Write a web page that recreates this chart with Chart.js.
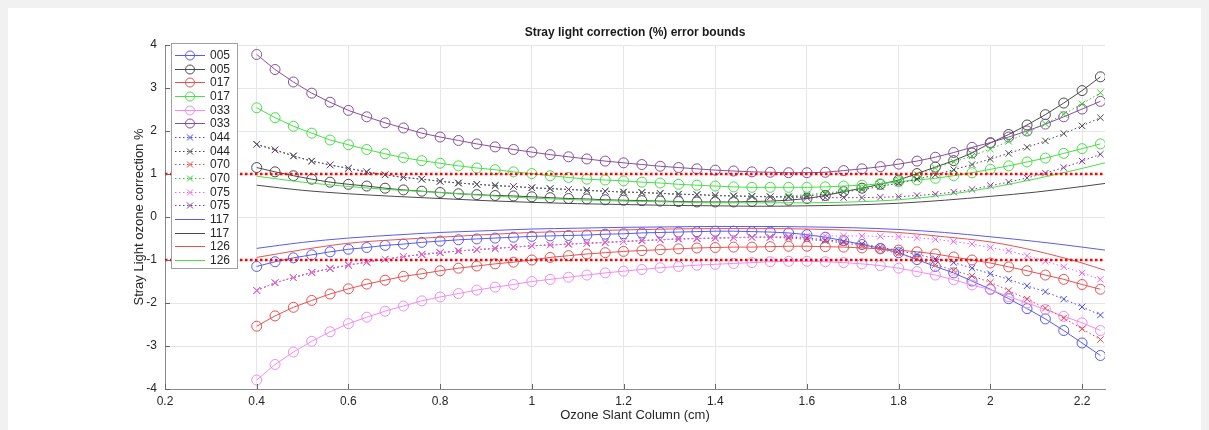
<!DOCTYPE html>
<html>
<head>
<meta charset="utf-8">
<script src="https://cdn.jsdelivr.net/npm/chart.js@4.4.1/dist/chart.umd.min.js"></script>
<style>
  html, body { margin: 0; padding: 0; background: #fff; }
  #wrap { width: 1209px; height: 430px; }
</style>
</head>
<body>
<div id="wrap"><canvas id="strayLight" width="1209" height="430"></canvas></div>
<script>
// slant column samples (cm) for the marked series
const slantCols = [0.40, 0.44, 0.48, 0.52, 0.56, 0.60, 0.64, 0.68, 0.72, 0.76, 0.80, 0.84, 0.88, 0.92, 0.96, 1.00,
  1.04, 1.08, 1.12, 1.16, 1.20, 1.24, 1.28, 1.32, 1.36, 1.40, 1.44, 1.48, 1.52, 1.56, 1.60, 1.64,
  1.68, 1.72, 1.76, 1.80, 1.84, 1.88, 1.92, 1.96, 2.00, 2.04, 2.08, 2.12, 2.16, 2.20, 2.24];
// samples for the plain lines (117, 126)
const lineCols = [0.4, 0.5, 0.6, 0.7, 0.8, 0.9, 1.0, 1.1, 1.2, 1.3, 1.4, 1.5, 1.6, 1.7, 1.8, 1.9, 2.0, 2.1, 2.2, 2.25];

const xTickVals = [0.2, 0.4, 0.6, 0.8, 1, 1.2, 1.4, 1.6, 1.8, 2, 2.2];
const yTickVals = [-4, -3, -2, -1, 0, 1, 2, 3, 4];

const boundCols = [0.2, 2.25];
const upperBound = [1, 1];
const lowerBound = [-1, -1];

// circles
const c005Neg = [-1.15, -1.04, -0.95, -0.88, -0.81, -0.75, -0.71, -0.66, -0.63, -0.59, -0.56, -0.53, -0.51, -0.49, -0.47, -0.45,
  -0.44, -0.43, -0.42, -0.40, -0.39, -0.37, -0.36, -0.35, -0.34, -0.33, -0.33, -0.34, -0.35,
  -0.37, -0.41, -0.47, -0.55, -0.64, -0.73, -0.83, -0.99, -1.15, -1.30, -1.49,
  -1.68, -1.90, -2.13, -2.37, -2.64, -2.93, -3.22];
const c005Pos = [1.15, 1.05, 0.96, 0.88, 0.81, 0.76, 0.72, 0.67, 0.63, 0.60, 0.57, 0.54, 0.52, 0.50, 0.49, 0.47,
  0.45, 0.43, 0.42, 0.40, 0.39, 0.38, 0.37, 0.36, 0.35, 0.35, 0.35, 0.36, 0.37,
  0.39, 0.43, 0.50, 0.59, 0.67, 0.76, 0.86, 1.01, 1.16, 1.31, 1.49,
  1.72, 1.92, 2.14, 2.38, 2.65, 2.94, 3.26];
const c017Neg = [-2.54, -2.30, -2.10, -1.94, -1.79, -1.67, -1.56, -1.47, -1.38, -1.32, -1.25, -1.19, -1.14, -1.09, -1.05, -1.00,
  -0.94, -0.90, -0.86, -0.83, -0.80, -0.78, -0.76, -0.74, -0.72, -0.71, -0.70, -0.70, -0.69,
  -0.68, -0.68, -0.69, -0.70, -0.72, -0.74, -0.77, -0.81, -0.86, -0.93, -1.00,
  -1.07, -1.16, -1.25, -1.35, -1.45, -1.57, -1.68];
const c017Pos = [2.54, 2.31, 2.11, 1.95, 1.79, 1.68, 1.57, 1.47, 1.38, 1.31, 1.25, 1.19, 1.14, 1.10, 1.05, 1.01,
  0.96, 0.92, 0.88, 0.86, 0.84, 0.81, 0.79, 0.76, 0.74, 0.72, 0.70, 0.69, 0.69,
  0.69, 0.69, 0.70, 0.72, 0.74, 0.77, 0.82, 0.86, 0.90, 0.96, 1.03,
  1.11, 1.19, 1.28, 1.37, 1.48, 1.59, 1.70];
const c033Neg = [-3.79, -3.43, -3.14, -2.89, -2.67, -2.48, -2.33, -2.19, -2.07, -1.95, -1.86, -1.78, -1.70, -1.63, -1.57, -1.50,
  -1.45, -1.40, -1.35, -1.30, -1.26, -1.22, -1.18, -1.15, -1.12, -1.10, -1.08, -1.06, -1.04,
  -1.03, -1.03, -1.04, -1.06, -1.09, -1.13, -1.19, -1.27, -1.35, -1.46, -1.58,
  -1.69, -1.85, -2.00, -2.15, -2.31, -2.46, -2.64];
const c033Pos = [3.78, 3.43, 3.14, 2.88, 2.67, 2.48, 2.33, 2.19, 2.07, 1.95, 1.86, 1.78, 1.70, 1.63, 1.57, 1.51,
  1.45, 1.40, 1.35, 1.30, 1.26, 1.22, 1.18, 1.15, 1.12, 1.09, 1.07, 1.05, 1.04,
  1.03, 1.03, 1.04, 1.08, 1.12, 1.17, 1.23, 1.30, 1.39, 1.50, 1.62,
  1.73, 1.86, 2.00, 2.16, 2.33, 2.51, 2.69];

// crosses
const x044Neg = [-1.71, -1.53, -1.41, -1.29, -1.20, -1.12, -1.05, -0.98, -0.92, -0.87, -0.83, -0.79, -0.76, -0.73, -0.70, -0.67,
  -0.65, -0.63, -0.61, -0.59, -0.57, -0.55, -0.53, -0.51, -0.50, -0.49, -0.48, -0.47, -0.47,
  -0.47, -0.49, -0.53, -0.57, -0.63, -0.70, -0.78, -0.87, -0.97, -1.06, -1.19,
  -1.32, -1.45, -1.60, -1.74, -1.91, -2.09, -2.28];
const x044Pos = [1.69, 1.56, 1.42, 1.30, 1.21, 1.13, 1.05, 0.98, 0.92, 0.88, 0.83, 0.79, 0.76, 0.73, 0.71, 0.68,
  0.66, 0.64, 0.62, 0.60, 0.58, 0.57, 0.55, 0.53, 0.52, 0.50, 0.49, 0.48, 0.47,
  0.47, 0.49, 0.53, 0.58, 0.64, 0.71, 0.79, 0.88, 0.98, 1.10, 1.22,
  1.35, 1.48, 1.62, 1.77, 1.94, 2.12, 2.31];
const x070Neg = [-1.71, -1.53, -1.41, -1.29, -1.20, -1.12, -1.05, -0.98, -0.92, -0.87, -0.83, -0.79, -0.76, -0.73, -0.70, -0.67,
  -0.65, -0.63, -0.61, -0.59, -0.57, -0.55, -0.53, -0.51, -0.50, -0.49, -0.48, -0.47, -0.47,
  -0.49, -0.52, -0.56, -0.60, -0.67, -0.75, -0.85, -0.97, -1.11, -1.24, -1.37,
  -1.52, -1.71, -1.91, -2.12, -2.35, -2.60, -2.85];
const x070Pos = [1.69, 1.56, 1.42, 1.30, 1.21, 1.13, 1.05, 0.98, 0.92, 0.88, 0.83, 0.79, 0.76, 0.73, 0.71, 0.68,
  0.66, 0.64, 0.62, 0.60, 0.58, 0.57, 0.55, 0.53, 0.52, 0.50, 0.49, 0.48, 0.47,
  0.49, 0.52, 0.56, 0.60, 0.67, 0.76, 0.86, 0.99, 1.14, 1.28, 1.42,
  1.58, 1.76, 1.96, 2.17, 2.39, 2.63, 2.89];
const x075Neg = [-1.71, -1.53, -1.41, -1.29, -1.20, -1.12, -1.05, -0.98, -0.92, -0.87, -0.83, -0.79, -0.76, -0.73, -0.70, -0.67,
  -0.65, -0.63, -0.61, -0.59, -0.57, -0.55, -0.53, -0.51, -0.50, -0.49, -0.48, -0.47, -0.47,
  -0.45, -0.44, -0.44, -0.44, -0.44, -0.45, -0.46, -0.48, -0.52, -0.57, -0.63,
  -0.71, -0.79, -0.90, -1.03, -1.16, -1.30, -1.45];
const x075Pos = [1.69, 1.56, 1.42, 1.30, 1.21, 1.13, 1.05, 0.98, 0.92, 0.88, 0.83, 0.79, 0.76, 0.73, 0.71, 0.68,
  0.66, 0.64, 0.62, 0.60, 0.58, 0.57, 0.55, 0.53, 0.52, 0.50, 0.49, 0.48, 0.47,
  0.46, 0.45, 0.45, 0.45, 0.45, 0.46, 0.47, 0.50, 0.53, 0.58, 0.64,
  0.73, 0.81, 0.91, 1.02, 1.15, 1.30, 1.46];

// plain lines
const l117Neg = [-0.73, -0.59, -0.49, -0.42, -0.36, -0.32, -0.28, -0.26, -0.24, -0.23, -0.22, -0.22, -0.23, -0.25, -0.29, -0.36, -0.46, -0.57, -0.70, -0.77];
const l117Pos = [0.74, 0.62, 0.54, 0.48, 0.43, 0.38, 0.34, 0.31, 0.29, 0.27, 0.26, 0.25, 0.26, 0.28, 0.32, 0.39, 0.48, 0.58, 0.71, 0.78];
const l126Neg = [-0.94, -0.76, -0.61, -0.53, -0.47, -0.41, -0.36, -0.33, -0.30, -0.28, -0.27, -0.27, -0.28, -0.31, -0.36, -0.46, -0.58, -0.79, -1.07, -1.24];
const l126Pos = [0.95, 0.81, 0.71, 0.63, 0.57, 0.50, 0.44, 0.40, 0.37, 0.35, 0.33, 0.33, 0.33, 0.35, 0.40, 0.51, 0.68, 0.89, 1.13, 1.26];

const FONT = "'Liberation Sans', Arial, sans-serif";

const series = [
  { label: '005', xs: slantCols, ys: c005Neg, color: '#5a5af0', mark: 'circle' },
  { label: '005', xs: slantCols, ys: c005Pos, color: '#4a4a4a', mark: 'circle' },
  { label: '017', xs: slantCols, ys: c017Neg, color: '#e85252', mark: 'circle' },
  { label: '017', xs: slantCols, ys: c017Pos, color: '#48e048', mark: 'circle' },
  { label: '033', xs: slantCols, ys: c033Neg, color: '#f08cf0', mark: 'circle' },
  { label: '033', xs: slantCols, ys: c033Pos, color: '#87509a', mark: 'circle' },
  { label: '044', xs: slantCols, ys: x044Neg, color: '#4646e6', mark: 'crossRot' },
  { label: '044', xs: slantCols, ys: x044Pos, color: '#444444', mark: 'crossRot' },
  { label: '070', xs: slantCols, ys: x070Neg, color: '#e84444', mark: 'crossRot' },
  { label: '070', xs: slantCols, ys: x070Pos, color: '#33c833', mark: 'crossRot' },
  { label: '075', xs: slantCols, ys: x075Neg, color: '#ee66ee', mark: 'crossRot' },
  { label: '075', xs: slantCols, ys: x075Pos, color: '#7d3c8e', mark: 'crossRot' },
  { label: '117', xs: lineCols, ys: l117Neg, color: '#5a5af0', mark: 'none' },
  { label: '117', xs: lineCols, ys: l117Pos, color: '#4a4a4a', mark: 'none' },
  { label: '126', xs: lineCols, ys: l126Neg, color: '#e85252', mark: 'none' },
  { label: '126', xs: lineCols, ys: l126Pos, color: '#48e048', mark: 'none' }
];

const datasets = series.map((s, i) => ({
  label: s.label,
  data: s.xs.map((x, k) => ({ x: x, y: s.ys[k] })),
  borderColor: s.color,
  borderWidth: 1,
  borderDash: s.mark === 'crossRot' ? [1.5, 2.5] : [],
  pointStyle: s.mark === 'none' ? false : s.mark,
  pointRadius: s.mark === 'circle' ? 5 : (s.mark === 'crossRot' ? 4.5 : 0),
  pointBorderWidth: 1,
  pointBorderColor: s.color,
  pointBackgroundColor: 'rgba(0,0,0,0)',
  cubicInterpolationMode: s.mark === 'none' ? 'monotone' : 'default',
  fill: false,
  order: 100 - i
}));

[upperBound, lowerBound].forEach(b => {
  datasets.push({
    label: 'bound',
    data: boundCols.map((x, k) => ({ x: x, y: b[k] })),
    borderColor: '#ff0000',
    borderWidth: 2.5,
    borderDash: [2.5, 2.5],
    pointRadius: 0,
    fill: false,
    order: 0
  });
});

const pageFrame = {
  id: 'pageFrame',
  beforeDraw(chart) {
    const ctx = chart.ctx;
    ctx.save();
    ctx.fillStyle = '#f1f1f1';
    ctx.fillRect(0, 0, chart.width, chart.height);
    ctx.fillStyle = '#ffffff';
    ctx.fillRect(8, 8, chart.width - 16, chart.height - 8);
    ctx.restore();
  }
};

const innerTicks = {
  id: 'innerTicks',
  afterDraw(chart) {
    const { ctx, chartArea: a, scales: { x, y } } = chart;
    ctx.save();
    ctx.strokeStyle = '#666';
    ctx.lineWidth = 1;
    ctx.beginPath();
    x.ticks.forEach(t => {
      const px = Math.round(x.getPixelForValue(t.value)) + 0.5;
      ctx.moveTo(px, a.bottom);
      ctx.lineTo(px, a.bottom - 5);
    });
    y.ticks.forEach(t => {
      const py = Math.round(y.getPixelForValue(t.value)) + 0.5;
      ctx.moveTo(a.left, py);
      ctx.lineTo(a.left + 5, py);
    });
    ctx.stroke();
    // title
    ctx.fillStyle = '#1a1a1a';
    ctx.font = 'bold 12px ' + FONT;
    ctx.textAlign = 'center';
    ctx.textBaseline = 'middle';
    ctx.fillText('Stray light correction (%) error bounds', (a.left + a.right) / 2, a.top - 12);
    ctx.restore();
  }
};

const legendBox = {
  id: 'legendBox',
  afterDatasetsDraw(chart) {
    const { ctx, chartArea: a } = chart;
    const x0 = a.left + 6, y0 = a.top - 2, w = 66, h = 225, row = 13.67;
    ctx.save();
    ctx.fillStyle = '#ffffff';
    ctx.fillRect(x0, y0, w, h);
    ctx.strokeStyle = '#a0a0a0';
    ctx.lineWidth = 1;
    ctx.strokeRect(x0 + 0.5, y0 + 0.5, w, h);
    ctx.font = '12px ' + FONT;
    ctx.textBaseline = 'middle';
    ctx.textAlign = 'left';
    series.forEach((s, k) => {
      const cy = Math.round(y0 + 12 + k * row) + 0.5;
      const lx = x0 + 4, mx = x0 + 19;
      ctx.strokeStyle = s.color;
      ctx.lineWidth = 1;
      ctx.setLineDash(s.mark === 'crossRot' ? [1.5, 2.5] : []);
      ctx.beginPath();
      ctx.moveTo(lx, cy);
      ctx.lineTo(lx + 30, cy);
      ctx.stroke();
      ctx.setLineDash([]);
      ctx.beginPath();
      if (s.mark === 'circle') {
        ctx.arc(mx, cy, 4.5, 0, Math.PI * 2);
      } else if (s.mark === 'crossRot') {
        ctx.moveTo(mx - 3, cy - 3); ctx.lineTo(mx + 3, cy + 3);
        ctx.moveTo(mx - 3, cy + 3); ctx.lineTo(mx + 3, cy - 3);
      }
      ctx.stroke();
      ctx.fillStyle = '#262626';
      ctx.fillText(s.label, x0 + 39, cy);
    });
    ctx.restore();
  }
};

Chart.defaults.font.family = FONT;

new Chart(document.getElementById('strayLight'), {
  type: 'line',
  data: { datasets: datasets },
  options: {
    responsive: false,
    animation: false,
    devicePixelRatio: 1,
    layout: { padding: { left: 132, right: 104, top: 45, bottom: 7 } },
    plugins: {
      legend: { display: false },
      tooltip: { enabled: false },
      title: { display: false }
    },
    scales: {
      x: {
        type: 'linear',
        min: 0.2,
        max: 2.25,
        afterBuildTicks: s => { s.ticks = xTickVals.map(v => ({ value: v })); },
        afterFit: s => { s.height = 34; },
        grid: { color: '#e6e6e6', drawTicks: false },
        border: { color: '#8a8a8a' },
        ticks: {
          padding: 5,
          autoSkip: false,
          maxRotation: 0,
          color: '#262626',
          font: { size: 12 },
          callback: v => String(Math.round(v * 10) / 10)
        },
        title: {
          display: true,
          text: 'Ozone Slant Column (cm)',
          color: '#262626',
          font: { size: 13 },
          padding: 0
        }
      },
      y: {
        min: -4,
        max: 4,
        afterBuildTicks: s => { s.ticks = yTickVals.map(v => ({ value: v })); },
        afterFit: s => { s.width = 33; },
        grid: { color: '#e6e6e6', drawTicks: false },
        border: { color: '#8a8a8a' },
        ticks: {
          padding: 8,
          color: '#262626',
          font: { size: 12 },
          callback: v => String(v)
        },
        title: {
          display: true,
          text: 'Stray Light ozone correction %',
          color: '#262626',
          font: { size: 13 },
          padding: 0
        }
      }
    }
  },
  plugins: [pageFrame, innerTicks, legendBox]
});
</script>
</body>
</html>
